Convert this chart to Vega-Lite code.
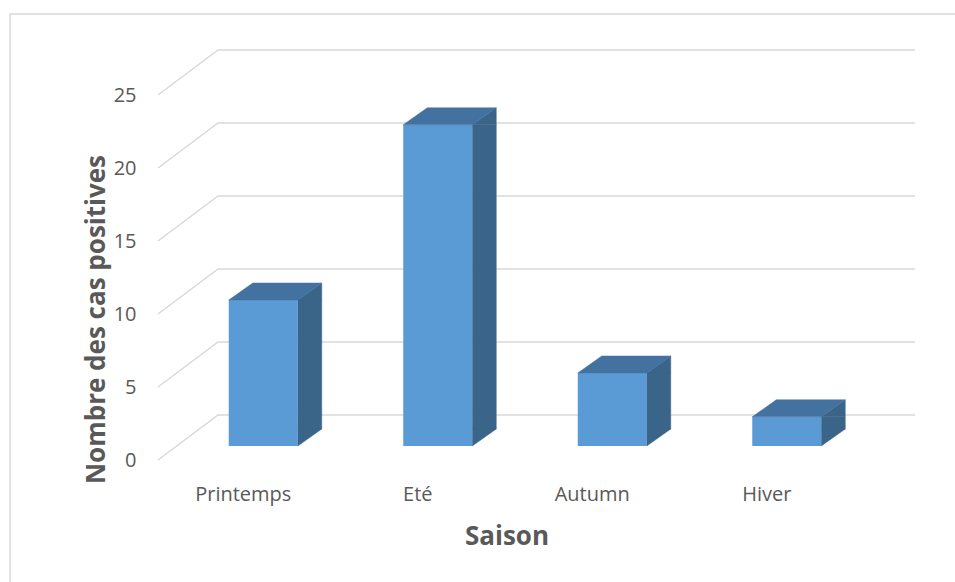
{
  "$schema": "https://vega.github.io/schema/vega-lite/v6.json",
  "width": 698,
  "height": 365,
  "autosize": "none",
  "padding": {"left": 176, "top": 81, "right": 81, "bottom": 136},
  "background": "white",
  "config": {
    "view": {"stroke": null},
    "font": "Open Sans",
    "axisY": {"domain": false, "ticks": false, "grid": false, "labelPadding": 40, "labelOffset": 14, "labelFontSize": 20, "labelColor": "#595959", "titleFontSize": 26, "titleFontWeight": "bold", "titleColor": "#595959", "titlePadding": 4, "titleY": 238},
    "axisX": {"domain": false, "ticks": false, "grid": false, "labelAngle": 0, "labelPadding": 38, "labelOffset": -20, "labelFontSize": 20, "labelColor": "#595959", "titleFontSize": 26, "titleFontWeight": "bold", "titleColor": "#595959", "titleX": 330.5, "titleY": 98, "titleBaseline": "alphabetic"}
  },
  "datasets": {
    "saisons": [
      {"saison": "Printemps", "cas": 10},
      {"saison": "Eté", "cas": 22},
      {"saison": "Autumn", "cas": 5},
      {"saison": "Hiver", "cas": 2}
    ],
    "grille": [{"v": 0}, {"v": 5}, {"v": 10}, {"v": 15}, {"v": 20}, {"v": 25}],
    "cadre": [{"c": "cadre"}]
  },
  "layer": [
    {
      "data": {"name": "cadre"},
      "mark": {"type": "point", "shape": "M -515 330 L -515 -249.5 L 440 -249.5", "size": 4, "filled": false, "stroke": "#d9d9d9", "strokeWidth": 1.5, "opacity": 1},
      "encoding": {}
    },
    {
      "data": {"name": "grille"},
      "mark": {"type": "point", "shape": "M -367 14 L -307 -31 L 390 -31", "size": 4, "filled": false, "stroke": "#d9d9d9", "strokeWidth": 1.5, "opacity": 1},
      "encoding": {
        "y": {"field": "v", "type": "quantitative", "scale": {"domain": [0, 25], "nice": false, "zero": true}, "axis": {"values": [0, 5, 10, 15, 20, 25]}, "title": "Nombre des cas positives"}
      }
    },
    {
      "data": {"name": "saisons"},
      "mark": {"type": "bar", "width": 24, "xOffset": 46.5, "y2Offset": -17, "fill": "#3b6489", "stroke": "#3b6489", "strokeWidth": 0.5},
      "encoding": {
        "x": {"field": "saison", "type": "nominal", "sort": null, "scale": {"paddingInner": 0.6, "paddingOuter": 0.3}, "title": "Saison"},
        "y": {"field": "cas", "type": "quantitative", "stack": null, "scale": {"domain": [0, 25], "nice": false}, "title": "Nombre des cas positives"},
        "y2": {"datum": 0}
      }
    },
    {
      "data": {"name": "saisons"},
      "mark": {"type": "point", "shape": "M 34.5 0 L 58.5 -17 L 58.5 0 Z", "size": 4, "filled": true, "fill": "#3b6489", "stroke": "#3b6489", "strokeWidth": 0.5, "opacity": 1},
      "encoding": {
        "x": {"field": "saison", "type": "nominal", "sort": null, "title": "Saison"},
        "y": {"field": "cas", "type": "quantitative", "scale": {"domain": [0, 25], "nice": false}, "title": "Nombre des cas positives"}
      }
    },
    {
      "data": {"name": "saisons"},
      "mark": {"type": "point", "shape": "M 34.5 -17 L 34.5 0 L 58.5 -17 Z", "size": 4, "filled": true, "fill": "#3b6489", "stroke": "#3b6489", "strokeWidth": 0.5, "opacity": 1},
      "encoding": {
        "x": {"field": "saison", "type": "nominal", "sort": null, "title": "Saison"},
        "y": {"datum": 0, "type": "quantitative", "scale": {"domain": [0, 25], "nice": false}}
      }
    },
    {
      "data": {"name": "saisons"},
      "mark": {"type": "bar", "width": 69, "fill": "#5b9bd5"},
      "encoding": {
        "x": {"field": "saison", "type": "nominal", "sort": null, "title": "Saison"},
        "y": {"field": "cas", "type": "quantitative", "scale": {"domain": [0, 25], "nice": false}, "title": "Nombre des cas positives"}
      }
    },
    {
      "data": {"name": "saisons"},
      "mark": {"type": "point", "shape": "M -34.5 0 L 34.5 0 L 58.5 -17 L -10.5 -17 Z", "size": 4, "filled": true, "fill": "#4472a0", "stroke": "#4472a0", "strokeWidth": 0.5, "opacity": 1},
      "encoding": {
        "x": {"field": "saison", "type": "nominal", "sort": null, "title": "Saison"},
        "y": {"field": "cas", "type": "quantitative", "scale": {"domain": [0, 25], "nice": false}, "title": "Nombre des cas positives"}
      }
    }
  ]
}
